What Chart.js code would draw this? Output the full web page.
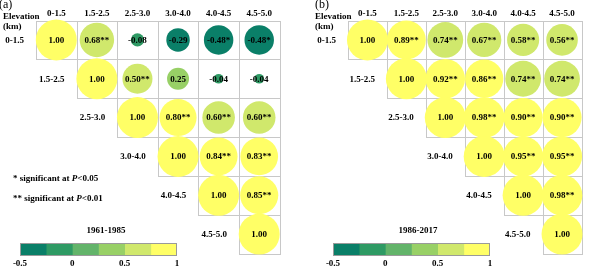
<!DOCTYPE html>
<html>
<head>
<meta charset="utf-8">
<script src="https://cdn.jsdelivr.net/npm/chart.js@4"></script>
<style>
  body { margin: 0; background: #fff; }
  #wrap { position: relative; width: 602px; height: 274px; overflow: hidden; }
  canvas { position: absolute; }
</style>
</head>
<body>
<div id="wrap">
  <canvas id="chartA" width="300" height="274" style="left:0;top:0"></canvas>
  <canvas id="chartB" width="302" height="274" style="left:300px;top:0"></canvas>
  <canvas id="barA" width="200" height="34" style="left:0;top:238px"></canvas>
  <canvas id="barB" width="200" height="34" style="left:313px;top:238px"></canvas>
</div>
<script>
// elevation bands (rows and columns)
const bands = ['0-1.5', '1.5-2.5', '2.5-3.0', '3.0-4.0', '4.0-4.5', '4.5-5.0'];

// upper triangle of the correlation matrix, row by row (starting at the diagonal)
const corr1961 = [
    [1.00, 0.68, -0.08, -0.29, -0.48, -0.48],
    [1.00, 0.50, 0.25, -0.04, -0.04],
    [1.00, 0.80, 0.60, 0.60],
    [1.00, 0.84, 0.83],
    [1.00, 0.85],
    [1.00]
];
const sig1961 = [
    ['', '**', '', '', '*', '*'],
    ['', '**', '', '', ''],
    ['', '**', '**', '**'],
    ['', '**', '**'],
    ['', '**'],
    ['']
];
const corr1986 = [
    [1.00, 0.89, 0.74, 0.67, 0.58, 0.56],
    [1.00, 0.92, 0.86, 0.74, 0.74],
    [1.00, 0.98, 0.90, 0.90],
    [1.00, 0.95, 0.95],
    [1.00, 0.98],
    [1.00]
];
const sig1986 = [
    ['', '**', '**', '**', '**', '**'],
    ['', '**', '**', '**', '**'],
    ['', '**', '**', '**'],
    ['', '**', '**'],
    ['', '**'],
    ['']
];

// colour bar
const cbEdges = [-0.5, -0.25, 0, 0.25, 0.5, 0.75, 1];
const cbColors = ['#0a7f68', '#2e9a64', '#63b46a', '#98d066', '#d0e86c', '#ffff66'];
const cbTicks = [-0.5, 0, 0.5, 1];

Chart.defaults.font.family = "'Liberation Serif', 'Times New Roman', serif";
Chart.defaults.color = '#000';

const bold9 = "bold 9px 'Liberation Serif', serif";

function binColor(v) {
    for (let k = cbEdges.length - 2; k >= 0; k--) {
        if (v >= cbEdges[k]) return cbColors[k];
    }
    return cbColors[0];
}

function buildPoints(corr, sig) {
    const pts = [];
    corr.forEach((row, i) => {
        row.forEach((v, k) => {
            pts.push({ x: i + k, y: i, r: 20.5 * Math.pow(Math.abs(v), 0.45), v: v, s: sig[i][k] });
        });
    });
    return pts;
}

function makePanel(canvasId, opts) {
    const points = buildPoints(opts.corr, opts.sig);

    const matrixPlugin = {
        id: 'matrix',
        beforeDatasetsDraw(chart) {
            const ctx = chart.ctx;
            const xs = chart.scales.x, ys = chart.scales.y;
            ctx.save();
            ctx.strokeStyle = '#c8c8c8';
            ctx.lineWidth = 1;
            for (let i = 0; i < bands.length; i++) {
                for (let j = i; j < bands.length; j++) {
                    const x0 = Math.round(xs.getPixelForValue(j - 0.5)) + 0.5;
                    const x1 = Math.round(xs.getPixelForValue(j + 0.5)) + 0.5;
                    const y0 = Math.round(ys.getPixelForValue(i - 0.5)) + 0.5;
                    const y1 = Math.round(ys.getPixelForValue(i + 0.5)) + 0.5;
                    ctx.strokeRect(x0, y0, x1 - x0, y1 - y0);
                }
            }
            ctx.restore();
        },
        afterDatasetsDraw(chart) {
            const ctx = chart.ctx;
            const xs = chart.scales.x, ys = chart.scales.y;
            const meta = chart.getDatasetMeta(0);
            ctx.save();
            ctx.fillStyle = '#000';
            ctx.font = bold9;
            ctx.textBaseline = 'middle';

            // values in the circles
            ctx.textAlign = 'center';
            meta.data.forEach((el, n) => {
                const p = points[n];
                ctx.fillText(p.v.toFixed(2) + p.s, el.x, el.y + 0.5);
            });

            // column headers
            bands.forEach((b, j) => ctx.fillText(b, xs.getPixelForValue(j), 13.5));

            // row labels next to the diagonal
            ctx.textAlign = 'right';
            bands.forEach((b, i) => ctx.fillText(b, xs.getPixelForValue(i - 0.5) - 12, ys.getPixelForValue(i) + 0.5));

            ctx.textAlign = 'left';
            ctx.fillText('Elevation', opts.labelX, 16.5);
            ctx.fillText('(km)', opts.labelX, 26.5);

            ctx.font = "12px 'Liberation Serif', serif";
            ctx.fillText(opts.tag, opts.tagX, 5);

            ctx.font = bold9;
            ctx.textAlign = 'center';
            ctx.fillText(opts.period, opts.periodX, 230.5);

            if (opts.notes) {
                drawNote(ctx, '* significant at ', '<0.05', 13, 179);
                drawNote(ctx, '** significant at ', '<0.01', 13, 199);
            }
            ctx.restore();
        }
    };

    return new Chart(document.getElementById(canvasId), {
        type: 'bubble',
        data: {
            datasets: [{
                data: points,
                backgroundColor: points.map(p => binColor(p.v)),
                borderWidth: 0,
                clip: false
            }]
        },
        options: {
            responsive: false,
            animation: false,
            events: [],
            layout: { padding: opts.padding },
            scales: {
                x: { type: 'linear', min: -0.5, max: 5.5, display: false },
                y: { type: 'linear', min: -0.5, max: 5.5, reverse: true, display: false }
            },
            plugins: { legend: { display: false }, tooltip: { enabled: false } }
        },
        plugins: [matrixPlugin]
    });
}

function drawNote(ctx, head, tail, x, y) {
    ctx.textAlign = 'left';
    ctx.font = bold9;
    ctx.fillText(head, x, y);
    x += ctx.measureText(head).width;
    ctx.font = "bold italic 9px 'Liberation Serif', serif";
    ctx.fillText('P', x, y);
    x += ctx.measureText('P').width;
    ctx.font = bold9;
    ctx.fillText(tail, x, y);
}

function makeColorBar(canvasId) {
    const outline = {
        id: 'outline',
        afterDatasetsDraw(chart) {
            const a = chart.chartArea;
            const ctx = chart.ctx;
            ctx.save();
            ctx.strokeStyle = '#9a9a9a';
            ctx.lineWidth = 1;
            ctx.strokeRect(Math.round(a.left) + 0.5, Math.round(a.top) + 0.5,
                Math.round(a.right - a.left) - 1, Math.round(a.bottom - a.top) - 1);
            ctx.restore();
        }
    };
    return new Chart(document.getElementById(canvasId), {
        type: 'bar',
        data: {
            labels: [''],
            datasets: cbColors.map((c, k) => ({
                data: [[cbEdges[k], cbEdges[k + 1]]],
                backgroundColor: c,
                borderWidth: 0,
                grouped: false,
                barPercentage: 1,
                categoryPercentage: 1
            }))
        },
        options: {
            indexAxis: 'y',
            responsive: false,
            animation: false,
            events: [],
            layout: { padding: { left: 20, right: 23, top: 5, bottom: 3 } },
            scales: {
                x: {
                    type: 'linear', min: -0.5, max: 1,
                    afterBuildTicks: axis => { axis.ticks = cbTicks.map(v => ({ value: v })); },
                    ticks: {
                        font: { size: 9, weight: 'bold' }, padding: 2, color: '#000', maxRotation: 0,
                        callback: v => String(v)
                    },
                    grid: { display: false, drawTicks: false },
                    border: { display: false }
                },
                y: { display: false }
            },
            plugins: { legend: { display: false }, tooltip: { enabled: false } }
        },
        plugins: [outline]
    });
}

makePanel('chartA', {
    corr: corr1961, sig: sig1961, tag: '(a)', tagX: -1, labelX: 3,
    period: '1961-1985', periodX: 106, notes: true,
    padding: { left: 36, right: 12, top: 20, bottom: 2 }
});
makePanel('chartB', {
    corr: corr1986, sig: sig1986, tag: '(b)', tagX: 15, labelX: 15,
    period: '1986-2017', periodX: 118, notes: false,
    padding: { left: 48, right: 1, top: 20, bottom: 2 }
});
makeColorBar('barA');
makeColorBar('barB');
</script>
</body>
</html>
